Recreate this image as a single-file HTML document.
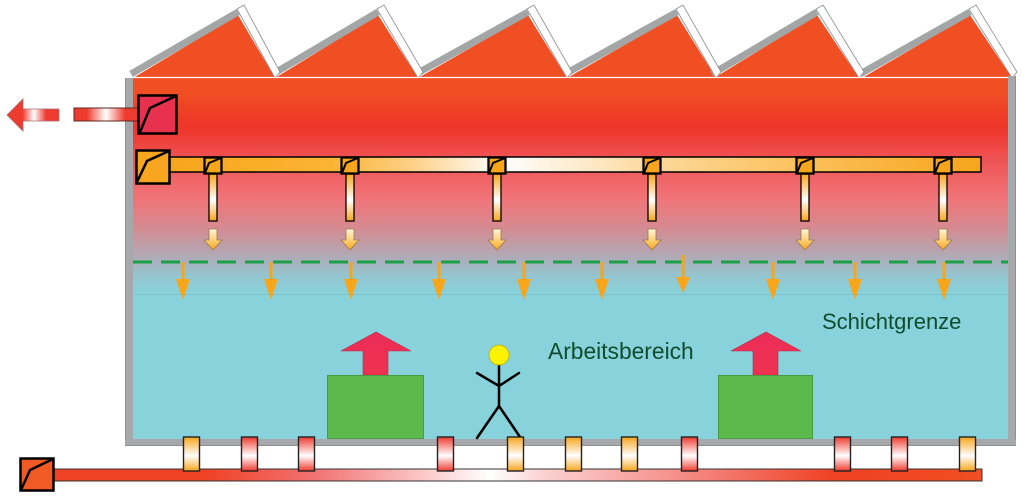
<!DOCTYPE html>
<html><head><meta charset="utf-8"><style>
html,body{margin:0;padding:0;background:#fff;}
svg{display:block;}
</style></head><body>
<svg width="1024" height="496" viewBox="0 0 1024 496" xmlns="http://www.w3.org/2000/svg">
<defs>
<linearGradient id="bg" x1="0" y1="78" x2="0" y2="294" gradientUnits="userSpaceOnUse">
<stop offset="0" stop-color="#F04E23"/>
<stop offset="0.07" stop-color="#F04E23"/>
<stop offset="0.23" stop-color="#EE3429"/>
<stop offset="0.38" stop-color="#EF5455"/>
<stop offset="0.565" stop-color="#F07579"/>
<stop offset="0.69" stop-color="#D68A90"/>
<stop offset="0.81" stop-color="#B5A6B1"/>
<stop offset="0.92" stop-color="#93C6D0"/>
<stop offset="1" stop-color="#88D2DC"/>
</linearGradient>
<linearGradient id="duct" x1="169" y1="0" x2="981" y2="0" gradientUnits="userSpaceOnUse">
<stop offset="0" stop-color="#F8A51C"/>
<stop offset="0.2" stop-color="#FAB433"/>
<stop offset="0.3" stop-color="#FDD088"/>
<stop offset="0.41" stop-color="#FFFFFF"/>
<stop offset="0.6" stop-color="#FDD89A"/>
<stop offset="0.8" stop-color="#FBBE55"/>
<stop offset="1" stop-color="#F8A51C"/>
</linearGradient>
<linearGradient id="bduct" x1="54" y1="0" x2="982" y2="0" gradientUnits="userSpaceOnUse">
<stop offset="0" stop-color="#EF4123"/>
<stop offset="0.16" stop-color="#EF4123"/>
<stop offset="0.28" stop-color="#F27272"/>
<stop offset="0.4" stop-color="#FBC9C9"/>
<stop offset="0.47" stop-color="#FFFFFF"/>
<stop offset="0.53" stop-color="#FBD0D0"/>
<stop offset="0.7" stop-color="#F4827A"/>
<stop offset="0.84" stop-color="#EF4123"/>
<stop offset="1" stop-color="#F04E23"/>
</linearGradient>
<linearGradient id="tubeV" x1="0" y1="0" x2="0" y2="1">
<stop offset="0" stop-color="#F8A51C"/>
<stop offset="0.55" stop-color="#FFFFFF"/>
<stop offset="1" stop-color="#F8A51C"/>
</linearGradient>
<linearGradient id="redV" x1="0" y1="0" x2="0" y2="1">
<stop offset="0" stop-color="#EE3B2F"/>
<stop offset="0.55" stop-color="#FFFFFF"/>
<stop offset="1" stop-color="#EE3B2F"/>
</linearGradient>
<linearGradient id="smallArr" x1="0" y1="0" x2="0" y2="1">
<stop offset="0" stop-color="#FFF6DC"/>
<stop offset="0.5" stop-color="#FDD27A"/>
<stop offset="1" stop-color="#F8A51C"/>
</linearGradient>
<linearGradient id="pipeH" x1="74" y1="0" x2="138" y2="0" gradientUnits="userSpaceOnUse">
<stop offset="0" stop-color="#EE3B2F"/>
<stop offset="0.2" stop-color="#EE3B2F"/>
<stop offset="0.5" stop-color="#FFFFFF"/>
<stop offset="0.8" stop-color="#EE3B2F"/>
<stop offset="1" stop-color="#EE3B2F"/>
</linearGradient>
<linearGradient id="arrH" x1="7" y1="0" x2="59" y2="0" gradientUnits="userSpaceOnUse">
<stop offset="0" stop-color="#EE3B2F"/>
<stop offset="0.3" stop-color="#EE3B2F"/>
<stop offset="0.52" stop-color="#FFFFFF"/>
<stop offset="0.75" stop-color="#EE3B2F"/>
<stop offset="1" stop-color="#EE3B2F"/>
</linearGradient>
<linearGradient id="upArr" x1="0" y1="0" x2="0" y2="1">
<stop offset="0" stop-color="#EC2E58"/>
<stop offset="1" stop-color="#EE3050"/>
</linearGradient>
</defs>

<!-- roof teeth -->
<g>
<polygon points="133,78 238,15 275,78" fill="#F04E23"/>
<polygon points="275,78 378,15 418,78" fill="#F04E23"/>
<polygon points="418,78 528,15 567,78" fill="#F04E23"/>
<polygon points="567,78 677,15 716,78" fill="#F04E23"/>
<polygon points="714,78 817,15 859,78" fill="#F04E23"/>
<polygon points="862,78 970,15 1012,78" fill="#F04E23"/>
</g>
<g stroke="#A3A6A6" stroke-width="7">
<line x1="131" y1="74" x2="238" y2="12"/>
<line x1="273" y1="74" x2="378" y2="12"/>
<line x1="416" y1="74" x2="528" y2="12"/>
<line x1="565" y1="74" x2="677" y2="12"/>
<line x1="712" y1="74" x2="817" y2="12"/>
<line x1="860" y1="74" x2="970" y2="12"/>
</g>
<g fill="#FFFFFF" stroke="#8a8c8e" stroke-width="0.8">
<polygon points="237,9 244,5 280,72 275,78"/>
<polygon points="377,9 384,5 423,72 418,78"/>
<polygon points="527,9 534,5 572,72 567,78"/>
<polygon points="676,9 683,5 721,72 716,78"/>
<polygon points="816,9 823,5 864,72 859,78"/>
<polygon points="969,9 976,5 1017,72 1012,78"/>
</g>

<!-- interior -->
<rect x="133" y="78" width="876" height="216" fill="url(#bg)"/>
<line x1="133" y1="77.5" x2="1008" y2="77.5" stroke="#FFFFFF" stroke-width="1.2"/>
<rect x="131" y="294" width="878" height="146" fill="#88D2DC"/>
<line x1="131" y1="294.5" x2="1009" y2="294.5" stroke="#7DC1CB" stroke-width="1"/>

<!-- walls -->
<rect x="125" y="78" width="8" height="368" fill="#A6A8AB"/>
<line x1="125.5" y1="78" x2="125.5" y2="446" stroke="#8d8f91" stroke-width="1"/>
<rect x="1008" y="76" width="8" height="370" fill="#A6A8AB"/>
<line x1="1015.5" y1="76" x2="1015.5" y2="446" stroke="#8d8f91" stroke-width="1"/>
<rect x="125" y="439" width="891" height="7" fill="#A6A8AB"/>
<line x1="125" y1="445.5" x2="1016" y2="445.5" stroke="#8d8f91" stroke-width="1"/>

<!-- exhaust -->
<polygon points="7,115 23,99 23,109 59,109 59,121 23,121 23,131" fill="url(#arrH)" stroke="#A07070" stroke-width="0.8"/>
<rect x="74" y="108" width="64" height="13" fill="url(#pipeH)" stroke="#5a2a20" stroke-width="1"/>
<rect x="138.5" y="95.5" width="38" height="38" fill="#E8304F" stroke="#000" stroke-width="2.5"/>
<polyline points="140,132 150,108 176,96" fill="none" stroke="#000" stroke-width="2.5"/>

<!-- supply duct -->
<rect x="169" y="157" width="812" height="15" fill="url(#duct)" stroke="#000" stroke-width="1.5"/>
<rect x="136.5" y="150.5" width="33" height="33" fill="#F7A51E" stroke="#000" stroke-width="2.5"/>
<polyline points="137,182 147,161 169,151" fill="none" stroke="#000" stroke-width="2.5"/>

<g id="drops">
<g>
<rect x="209" y="174" width="8" height="47" fill="url(#tubeV)" stroke="#000" stroke-width="1.3"/>
<rect x="204.5" y="157.5" width="17" height="16" fill="#F8A51C" stroke="#000" stroke-width="2.3"/>
<polyline points="205,173 209,163 221,158" fill="none" stroke="#000" stroke-width="2"/>
<polygon points="209,229 217,229 217,240 222,240 213,250 204,240 209,240" fill="url(#smallArr)" stroke="#9a7a50" stroke-width="0.8"/>
</g>
<g transform="translate(137,0)">
<rect x="209" y="174" width="8" height="47" fill="url(#tubeV)" stroke="#000" stroke-width="1.3"/>
<rect x="204.5" y="157.5" width="17" height="16" fill="#F8A51C" stroke="#000" stroke-width="2.3"/>
<polyline points="205,173 209,163 221,158" fill="none" stroke="#000" stroke-width="2"/>
<polygon points="209,229 217,229 217,240 222,240 213,250 204,240 209,240" fill="url(#smallArr)" stroke="#9a7a50" stroke-width="0.8"/>
</g>
<g transform="translate(284,0)">
<rect x="209" y="174" width="8" height="47" fill="url(#tubeV)" stroke="#000" stroke-width="1.3"/>
<rect x="204.5" y="157.5" width="17" height="16" fill="#F8A51C" stroke="#000" stroke-width="2.3"/>
<polyline points="205,173 209,163 221,158" fill="none" stroke="#000" stroke-width="2"/>
<polygon points="209,229 217,229 217,240 222,240 213,250 204,240 209,240" fill="url(#smallArr)" stroke="#9a7a50" stroke-width="0.8"/>
</g>
<g transform="translate(439,0)">
<rect x="209" y="174" width="8" height="47" fill="url(#tubeV)" stroke="#000" stroke-width="1.3"/>
<rect x="204.5" y="157.5" width="17" height="16" fill="#F8A51C" stroke="#000" stroke-width="2.3"/>
<polyline points="205,173 209,163 221,158" fill="none" stroke="#000" stroke-width="2"/>
<polygon points="209,229 217,229 217,240 222,240 213,250 204,240 209,240" fill="url(#smallArr)" stroke="#9a7a50" stroke-width="0.8"/>
</g>
<g transform="translate(592,0)">
<rect x="209" y="174" width="8" height="47" fill="url(#tubeV)" stroke="#000" stroke-width="1.3"/>
<rect x="204.5" y="157.5" width="17" height="16" fill="#F8A51C" stroke="#000" stroke-width="2.3"/>
<polyline points="205,173 209,163 221,158" fill="none" stroke="#000" stroke-width="2"/>
<polygon points="209,229 217,229 217,240 222,240 213,250 204,240 209,240" fill="url(#smallArr)" stroke="#9a7a50" stroke-width="0.8"/>
</g>
<g transform="translate(730,0)">
<rect x="209" y="174" width="8" height="47" fill="url(#tubeV)" stroke="#000" stroke-width="1.3"/>
<rect x="204.5" y="157.5" width="17" height="16" fill="#F8A51C" stroke="#000" stroke-width="2.3"/>
<polyline points="205,173 209,163 221,158" fill="none" stroke="#000" stroke-width="2"/>
<polygon points="209,229 217,229 217,240 222,240 213,250 204,240 209,240" fill="url(#smallArr)" stroke="#9a7a50" stroke-width="0.8"/>
</g>
</g>

<!-- layer boundary -->
<line x1="133" y1="262" x2="1008" y2="262" stroke="#1BA048" stroke-width="3" stroke-dasharray="19 9"/>

<!-- big orange arrows -->
<g fill="#F9A51A" stroke="#F9A51A">
<line x1="183" y1="262" x2="183" y2="282" stroke-width="3"/><polygon points="176,279 190,279 183,300" stroke="none"/>
<line x1="271" y1="262" x2="271" y2="282" stroke-width="3"/><polygon points="264,279 278,279 271,300" stroke="none"/>
<line x1="351" y1="262" x2="351" y2="282" stroke-width="3"/><polygon points="344,279 358,279 351,300" stroke="none"/>
<line x1="439" y1="262" x2="439" y2="282" stroke-width="3"/><polygon points="432,279 446,279 439,300" stroke="none"/>
<line x1="524" y1="262" x2="524" y2="282" stroke-width="3"/><polygon points="517,279 531,279 524,300" stroke="none"/>
<line x1="602" y1="262" x2="602" y2="282" stroke-width="3"/><polygon points="595,279 609,279 602,300" stroke="none"/>
<line x1="683" y1="255" x2="683" y2="280" stroke-width="3"/><polygon points="676,277 690,277 683,293" stroke="none"/>
<line x1="773" y1="262" x2="773" y2="282" stroke-width="3"/><polygon points="766,279 780,279 773,300" stroke="none"/>
<line x1="855" y1="262" x2="855" y2="282" stroke-width="3"/><polygon points="848,279 862,279 855,300" stroke="none"/>
<line x1="944" y1="262" x2="944" y2="282" stroke-width="3"/><polygon points="937,279 951,279 944,300" stroke="none"/>
</g>

<!-- labels -->
<text x="822" y="329" font-family="Liberation Sans, sans-serif" font-size="22" fill="#0F4D2E">Schichtgrenze</text>
<text x="548" y="359" font-family="Liberation Sans, sans-serif" font-size="22.8" fill="#0F4D2E">Arbeitsbereich</text>

<!-- heat sources -->
<polygon points="341,351 376,332 411,351 388,351 388,375 363,375 363,351" fill="url(#upArr)" stroke="#B0304A" stroke-width="0.6"/>
<rect x="327.5" y="375.5" width="96" height="63" fill="#5CB94B" stroke="#4A9A40" stroke-width="1"/>
<polygon points="731,351 766,332 801,351 778,351 778,375 753,375 753,351" fill="url(#upArr)" stroke="#B0304A" stroke-width="0.6"/>
<rect x="718.5" y="375.5" width="94" height="63" fill="#5CB94B" stroke="#4A9A40" stroke-width="1"/>

<!-- stick figure -->
<g stroke="#000" stroke-width="2.5" fill="none" stroke-linecap="round">
<line x1="499" y1="365" x2="499" y2="406"/>
<polyline points="477,373 499,386 519,373"/>
<polyline points="477,438 499,406 520,437"/>
</g>
<circle cx="499" cy="355" r="10" fill="#FFF200" stroke="#B8A800" stroke-width="0.7"/>

<!-- bottom duct -->
<rect x="54" y="469" width="928" height="12" fill="url(#bduct)" stroke="#333" stroke-width="1"/>
<rect x="20.5" y="458.5" width="33" height="32" fill="#F15A24" stroke="#000" stroke-width="2.5"/>
<polyline points="21,490 30,470 53,459" fill="none" stroke="#000" stroke-width="2.5"/>

<g stroke="#222" stroke-width="1.4">
<rect x="183.5" y="437" width="16" height="34" fill="url(#tubeV)"/>
<rect x="241.5" y="437" width="16" height="34" fill="url(#redV)"/>
<rect x="298.5" y="437" width="16" height="34" fill="url(#redV)"/>
<rect x="437.5" y="437" width="16" height="34" fill="url(#redV)"/>
<rect x="507.5" y="437" width="16" height="34" fill="url(#tubeV)"/>
<rect x="565.5" y="437" width="16" height="34" fill="url(#tubeV)"/>
<rect x="621.5" y="437" width="16" height="34" fill="url(#tubeV)"/>
<rect x="681.5" y="437" width="16" height="34" fill="url(#redV)"/>
<rect x="834.5" y="437" width="16" height="34" fill="url(#redV)"/>
<rect x="891.5" y="437" width="16" height="34" fill="url(#redV)"/>
<rect x="959.5" y="437" width="16" height="34" fill="url(#tubeV)"/>
</g>
</svg>
</body></html>
